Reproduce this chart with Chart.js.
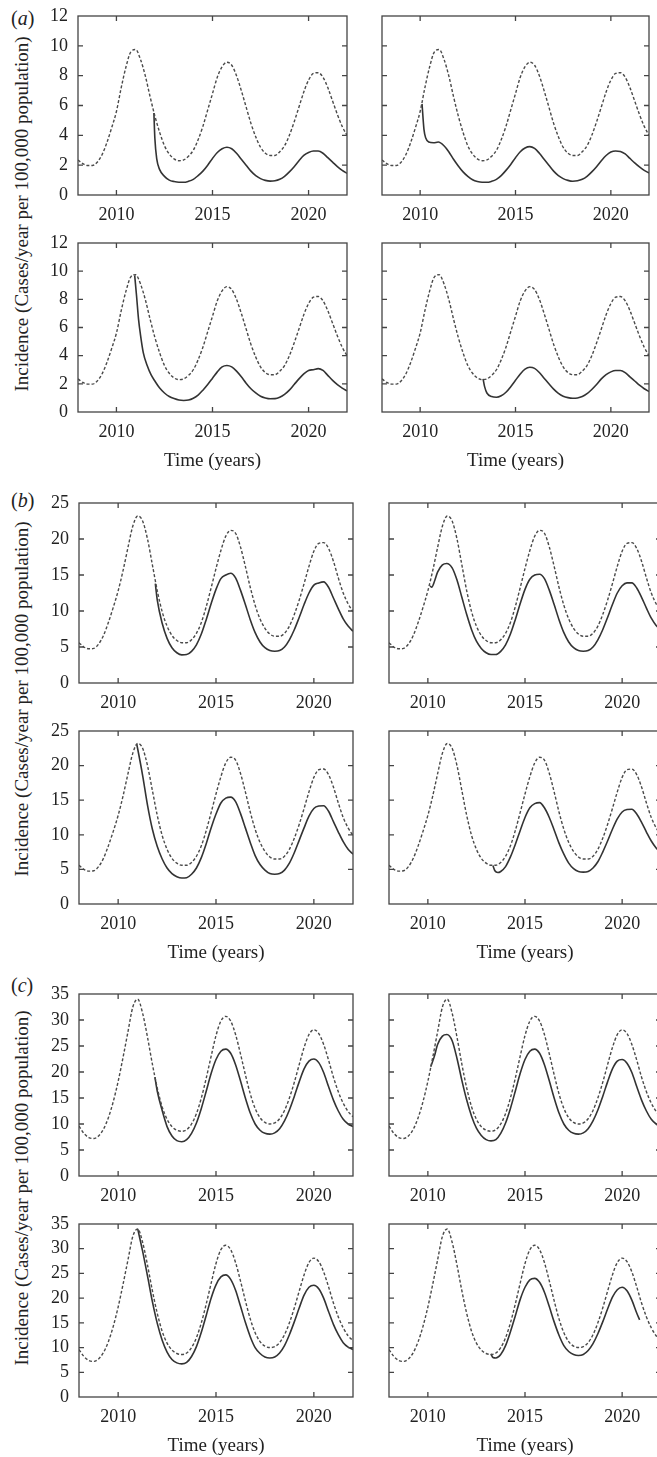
<!DOCTYPE html>
<html>
<head>
<meta charset="utf-8">
<script src="https://cdn.jsdelivr.net/npm/chart.js@4.4.1/dist/chart.umd.min.js"></script>
<style>
  html, body { margin: 0; padding: 0; background: #fff; }
  body { width: 657px; height: 1457px; position: relative; overflow: hidden;
         font-family: 'Liberation Serif', 'Times New Roman', serif; color: #222; }
  canvas { position: absolute; }
  .tag { position: absolute; font-size: 20px; line-height: 20px; }
  .ytitle { position: absolute; left: 22px; font-size: 19px; white-space: nowrap;
            transform: translate(-50%, -50%) rotate(-90deg); }
</style>
</head>
<body>
<div class="tag" style="left:11px;top:8px">(<i>a</i>)</div>
<div class="tag" style="left:11px;top:490px">(<i>b</i>)</div>
<div class="tag" style="left:11px;top:975px">(<i>c</i>)</div>
<div class="ytitle" style="top:214px">Incidence (Cases/year per 100,000 population)</div>
<div class="ytitle" style="top:699px">Incidence (Cases/year per 100,000 population)</div>
<div class="ytitle" style="top:1188px">Incidence (Cases/year per 100,000 population)</div>
<script>
// time grid (years) and tick labels
const quarterYears = [2008, 2008.25, 2008.5, 2008.75, 2009, 2009.25, 2009.5, 2009.75,
  2010, 2010.25, 2010.5, 2010.75, 2011, 2011.25, 2011.5, 2011.75, 2012, 2012.25, 2012.5, 2012.75,
  2013, 2013.25, 2013.5, 2013.75, 2014, 2014.25, 2014.5, 2014.75, 2015, 2015.25, 2015.5, 2015.75,
  2016, 2016.25, 2016.5, 2016.75, 2017, 2017.25, 2017.5, 2017.75, 2018, 2018.25, 2018.5, 2018.75,
  2019, 2019.25, 2019.5, 2019.75, 2020, 2020.25, 2020.5, 2020.75, 2021, 2021.25, 2021.5, 2021.75, 2022];
const xTicks = [2010, 2015, 2020];
const yTicksA = [0, 2, 4, 6, 8, 10, 12];
const yTicksB = [0, 5, 10, 15, 20, 25];
const yTicksC = [0, 5, 10, 15, 20, 25, 30, 35];

// --- (a) ---
const aDash = [2.35, 2.1, 1.98, 1.98, 2.2, 2.7, 3.5, 4.5, 5.6, 7.2, 8.6, 9.6, 9.75, 9.1, 8.0, 6.6,
  5.3, 4.2, 3.3, 2.75, 2.42, 2.3, 2.35, 2.6, 3.0, 3.7, 4.6, 5.7, 6.8, 7.9, 8.6, 8.9,
  8.7, 8.0, 7.0, 5.9, 4.8, 3.9, 3.2, 2.8, 2.65, 2.65, 2.9, 3.3, 4.0, 4.9, 5.9, 6.9,
  7.7, 8.15, 8.2, 7.9, 7.2, 6.3, 5.4, 4.6, 4.0];
const aSolTLT = [2011.95, 2012, 2012.1, ...quarterYears.slice(17)];
const aSolTLV = [5.5, 3.8, 2.4, 1.7, 1.25, 1.0, 0.9, 0.85, 0.85, 0.92, 1.05, 1.3, 1.6, 2.0,
  2.45, 2.85, 3.1, 3.2, 3.1, 2.8, 2.4, 2.0, 1.6, 1.3, 1.1, 0.98, 0.93, 0.95, 1.05, 1.25,
  1.55, 1.9, 2.3, 2.65, 2.85, 2.95, 2.95, 2.8, 2.5, 2.2, 1.9, 1.65, 1.45];
const aSolTRT = [2010.1, 2010.2, 2010.3, 2010.45, 2010.7, 2010.95, ...quarterYears.slice(13)];
const aSolTRV = [6.1, 4.4, 3.8, 3.55, 3.5, 3.55, 3.3, 2.9, 2.4, 1.95, 1.55, 1.25, 1.02, 0.9,
  0.85, 0.85, 0.92, 1.05, 1.3, 1.65, 2.05, 2.5, 2.9, 3.15, 3.24, 3.12, 2.8, 2.4, 2.0, 1.6,
  1.3, 1.1, 0.98, 0.92, 0.95, 1.05, 1.25, 1.55, 1.9, 2.3, 2.65, 2.88, 2.95, 2.92, 2.75,
  2.45, 2.15, 1.88, 1.65, 1.48];
const aSolBLT = [2010.95, 2011.05, 2011.15, 2011.25, 2011.4, 2011.6, 2011.8, ...quarterYears.slice(16)];
const aSolBLV = [9.7, 8.2, 6.6, 5.5, 4.2, 3.3, 2.65, 2.2, 1.7, 1.35, 1.1, 0.95, 0.85, 0.82, 0.85,
  0.98, 1.2, 1.55, 1.95, 2.4, 2.85, 3.2, 3.3, 3.2, 2.9, 2.5, 2.05, 1.65, 1.35, 1.12, 1.0,
  0.94, 0.95, 1.05, 1.25, 1.55, 1.95, 2.35, 2.7, 2.95, 3.0, 3.08, 2.95, 2.6, 2.25, 1.95, 1.7, 1.5];
const aSolBRT = [2013.3, 2013.38, ...quarterYears.slice(22)];
const aSolBRV = [2.35, 1.8, 1.35, 1.1, 1.05, 1.15, 1.4, 1.8, 2.25, 2.7, 3.05, 3.18, 3.1, 2.8, 2.4,
  2.0, 1.62, 1.32, 1.12, 1.02, 0.98, 1.0, 1.1, 1.3, 1.6, 1.95, 2.35, 2.65, 2.85, 2.95, 2.95,
  2.8, 2.5, 2.2, 1.9, 1.65, 1.45];

// --- (b) ---
const bDash = [5.6, 5.0, 4.75, 4.8, 5.4, 6.6, 8.4, 10.5, 12.8, 15.6, 18.8, 21.8, 23.2, 22.5, 20.0, 16.4,
  12.8, 9.9, 7.9, 6.6, 5.9, 5.6, 5.6, 6.0, 6.9, 8.4, 10.6, 13.2, 15.9, 18.4, 20.4, 21.2,
  20.8, 18.9, 16.2, 13.3, 10.8, 8.9, 7.6, 6.8, 6.5, 6.5, 6.9, 7.9, 9.5, 11.5, 13.8, 16.2,
  18.3, 19.4, 19.5, 18.7, 16.9, 14.6, 12.5, 11.0, 9.9];
const bSolTLT = [2011.9, ...quarterYears.slice(16)];
const bSolTLV = [13.8, 11.5, 8.3, 6.2, 4.9, 4.2, 3.9, 3.95, 4.4, 5.3, 6.8, 8.8, 11.0, 13.0, 14.5,
  15.0, 15.25, 14.6, 12.9, 10.9, 8.8, 7.0, 5.7, 4.9, 4.5, 4.4, 4.5, 5.0, 6.0, 7.4, 9.1, 10.9,
  12.5, 13.6, 13.9, 14.05, 13.3, 11.8, 10.3, 8.9, 7.9, 7.2];
const bSolTRT = [2010.12, 2010.2, 2010.35, 2010.5, 2010.75, 2010.97, ...quarterYears.slice(13)];
const bSolTRV = [13.5, 13.3, 14.2, 15.4, 16.4, 16.6, 16.0, 14.3, 11.9, 9.5, 7.4, 5.8, 4.8, 4.2,
  3.95, 3.95, 4.4, 5.3, 6.8, 8.8, 11.0, 13.0, 14.4, 15.0, 15.1, 14.5, 12.9, 10.9, 8.8, 7.0,
  5.7, 4.9, 4.5, 4.4, 4.5, 5.0, 6.0, 7.4, 9.1, 10.9, 12.5, 13.5, 13.9, 13.9, 13.2, 11.9,
  10.4, 9.0, 8.0, 7.4];
const bSolBLT = [2010.95, ...quarterYears.slice(12)];
const bSolBLV = [23.1, 22.4, 18.6, 14.3, 10.8, 8.3, 6.5, 5.2, 4.4, 3.95, 3.75, 3.8, 4.3, 5.2, 6.7,
  8.7, 11.0, 13.0, 14.6, 15.3, 15.45, 14.8, 13.1, 11.0, 8.9, 7.0, 5.7, 4.9, 4.4, 4.3, 4.4,
  4.9, 5.9, 7.4, 9.2, 11.0, 12.7, 13.8, 14.15, 14.2, 13.4, 11.9, 10.4, 9.0, 7.9, 7.2];
const bSolBRT = [2013.35, 2013.45, 2013.6, 2013.75, ...quarterYears.slice(24)];
const bSolBRV = [5.55, 4.8, 4.55, 4.7, 5.4, 6.8, 8.6, 10.6, 12.5, 13.9, 14.5, 14.65, 13.9, 12.5,
  10.7, 8.8, 7.2, 5.9, 5.1, 4.7, 4.6, 4.7, 5.2, 6.1, 7.5, 9.1, 10.8, 12.3, 13.3, 13.65, 13.7,
  13.0, 11.8, 10.4, 9.1, 8.1, 7.4];

// --- (c) ---
const cDash = [9.6, 8.2, 7.4, 7.2, 7.7, 9.0, 11.2, 14.3, 18.2, 22.8, 27.7, 32.5, 34.0, 31.3, 26.7, 21.5,
  16.9, 13.3, 10.9, 9.5, 8.8, 8.6, 8.9, 10.0, 12.0, 15.0, 18.8, 23.0, 27.0, 29.8, 30.7, 29.8,
  27.2, 23.5, 19.5, 15.8, 13.0, 11.2, 10.3, 10.0, 10.2, 11.0, 12.6, 15.0, 18.0, 21.4, 24.7, 27.2,
  28.1, 27.4, 25.3, 22.3, 19.0, 16.2, 14.0, 12.4, 11.4];
const cSolTLT = [2011.88, ...quarterYears.slice(16)];
const cSolTLV = [19.0, 16.3, 12.6, 9.5, 7.7, 6.8, 6.6, 7.0, 8.2, 10.2, 13.0, 16.3, 19.7, 22.4, 24.0,
  24.4, 23.6, 21.4, 18.3, 15.0, 12.1, 10.0, 8.8, 8.2, 8.05, 8.3, 9.1, 10.6, 12.7, 15.3, 18.1,
  20.6, 22.1, 22.5, 21.8, 19.9, 17.2, 14.6, 12.5, 10.9, 10.0, 9.5];
const cSolTRT = [2010.15, 2010.35, 2010.5, 2010.75, 2010.98, ...quarterYears.slice(13)];
const cSolTRV = [21.0, 23.2, 25.3, 26.9, 27.2, 26.0, 22.6, 18.4, 14.6, 11.5, 9.2, 7.8, 7.0, 6.75,
  7.0, 8.2, 10.2, 13.0, 16.3, 19.7, 22.4, 24.0, 24.4, 23.6, 21.4, 18.3, 15.0, 12.1, 10.0, 8.8,
  8.2, 8.05, 8.3, 9.1, 10.6, 12.7, 15.3, 18.1, 20.6, 22.1, 22.4, 21.7, 19.9, 17.2, 14.6, 12.5,
  10.9, 10.0, 9.5];
const cSolBLT = quarterYears.slice(12);
const cSolBLV = [34.0, 29.5, 24.5, 19.3, 14.9, 11.5, 9.1, 7.6, 6.9, 6.7, 7.0, 8.2, 10.2, 13.1, 16.5,
  20.0, 22.7, 24.3, 24.7, 23.8, 21.6, 18.4, 15.1, 12.2, 10.0, 8.8, 8.1, 7.9, 8.1, 8.9, 10.4,
  12.6, 15.2, 18.0, 20.6, 22.2, 22.6, 21.9, 20.0, 17.3, 14.7, 12.6, 11.0, 10.1, 9.6];
const cSolBRT = [2013.25, 2013.35, ...quarterYears.slice(22, 52), 2020.9];
const cSolBRV = [8.7, 8.0, 7.9, 8.6, 10.4, 13.2, 16.4, 19.7, 22.2, 23.7, 24.0, 23.2, 21.2, 18.3, 15.2,
  12.5, 10.4, 9.2, 8.6, 8.4, 8.6, 9.4, 10.8, 12.8, 15.2, 17.8, 20.2, 21.7, 22.2, 21.5, 19.6,
  17.0, 15.6];

Chart.defaults.font.family = "'Liberation Serif', 'Times New Roman', serif";
Chart.defaults.color = '#222';

const pts = (t, v) => t.map((x, i) => ({ x: x, y: v[i] }));

// frame + inward tick marks on all four sides
const frameTicks = {
    id: 'frameTicks',
    afterDatasetsDraw(chart) {
        const { ctx, chartArea: a, scales: { x, y } } = chart;
        ctx.save();
        ctx.strokeStyle = '#444';
        ctx.lineWidth = 1.3;
        ctx.strokeRect(a.left, a.top, a.right - a.left, a.bottom - a.top);
        ctx.beginPath();
        x.ticks.forEach(t => {
            const px = x.getPixelForValue(t.value);
            ctx.moveTo(px, a.bottom); ctx.lineTo(px, a.bottom - 5);
            ctx.moveTo(px, a.top); ctx.lineTo(px, a.top + 5);
        });
        y.ticks.forEach(t => {
            if (t.value <= y.min || t.value >= y.max) return;
            const py = y.getPixelForValue(t.value);
            ctx.moveTo(a.left, py); ctx.lineTo(a.left + 5, py);
            ctx.moveTo(a.right, py); ctx.lineTo(a.right - 5, py);
        });
        ctx.stroke();
        ctx.restore();
    }
};

function makePanel(row, col, isLeft, isBottom, yTicks, dashV, solT, solV) {
    const padTop = 24;
    const xh = isBottom ? 60 : 36;
    const cl = isLeft ? 0 : col.left - 8;
    const ct = row.top - padTop;
    const cv = document.createElement('canvas');
    cv.width = col.right + 8 - cl;
    cv.height = row.bottom + xh - ct;
    cv.style.left = cl + 'px';
    cv.style.top = ct + 'px';
    document.body.appendChild(cv);

    new Chart(cv, {
        type: 'line',
        data: {
            datasets: [{
                data: pts(quarterYears, dashV),
                borderColor: '#4a4a4a',
                borderWidth: 1.4,
                borderDash: [3, 2],
                pointRadius: 0,
                cubicInterpolationMode: 'monotone'
            }, {
                data: pts(solT, solV),
                borderColor: '#333',
                borderWidth: 1.6,
                pointRadius: 0,
                cubicInterpolationMode: 'monotone'
            }]
        },
        options: {
            responsive: false,
            animation: false,
            events: [],
            layout: { padding: { left: 0, top: padTop, right: 8, bottom: 0 } },
            plugins: { legend: { display: false }, tooltip: { enabled: false } },
            scales: {
                x: {
                    type: 'linear', min: 2008, max: 2022,
                    afterBuildTicks: s => { s.ticks = xTicks.map(v => ({ value: v })); },
                    afterFit: s => { s.height = xh; },
                    grid: { display: false, drawTicks: false },
                    border: { display: false },
                    ticks: { padding: 9, autoSkip: false, maxRotation: 0, font: { size: 18 }, callback: v => String(v) },
                    title: { display: isBottom, text: 'Time (years)', padding: 0, font: { size: 19 } }
                },
                y: {
                    type: 'linear', min: 0, max: yTicks[yTicks.length - 1],
                    afterBuildTicks: s => { s.ticks = yTicks.map(v => ({ value: v })); },
                    afterFit: s => { s.width = col.left - cl; },
                    grid: { display: false, drawTicks: false },
                    border: { display: false },
                    ticks: { display: isLeft, autoSkip: false, padding: 10, font: { size: 18 }, callback: v => String(v) }
                }
            }
        },
        plugins: [frameTicks]
    });
}

// panel geometry (px)
const groups = [
    { rows: [{ top: 16, bottom: 195 }, { top: 243, bottom: 412 }],
      cols: [{ left: 78, right: 347 }, { left: 382, right: 649 }],
      yTicks: yTicksA, dash: aDash,
      sol: [[aSolTLT, aSolTLV], [aSolTRT, aSolTRV], [aSolBLT, aSolBLV], [aSolBRT, aSolBRV]] },
    { rows: [{ top: 503, bottom: 683 }, { top: 731, bottom: 904 }],
      cols: [{ left: 79, right: 353 }, { left: 389, right: 661 }],
      yTicks: yTicksB, dash: bDash,
      sol: [[bSolTLT, bSolTLV], [bSolTRT, bSolTRV], [bSolBLT, bSolBLV], [bSolBRT, bSolBRV]] },
    { rows: [{ top: 994, bottom: 1176 }, { top: 1224, bottom: 1397 }],
      cols: [{ left: 79, right: 353 }, { left: 389, right: 661 }],
      yTicks: yTicksC, dash: cDash,
      sol: [[cSolTLT, cSolTLV], [cSolTRT, cSolTRV], [cSolBLT, cSolBLV], [cSolBRT, cSolBRV]] }
];

groups.forEach(g => {
    for (let r = 0; r < 2; r++) {
        for (let c = 0; c < 2; c++) {
            const s = g.sol[r * 2 + c];
            makePanel(g.rows[r], g.cols[c], c === 0, r === 1, g.yTicks, g.dash, s[0], s[1]);
        }
    }
});
</script>
</body>
</html>
